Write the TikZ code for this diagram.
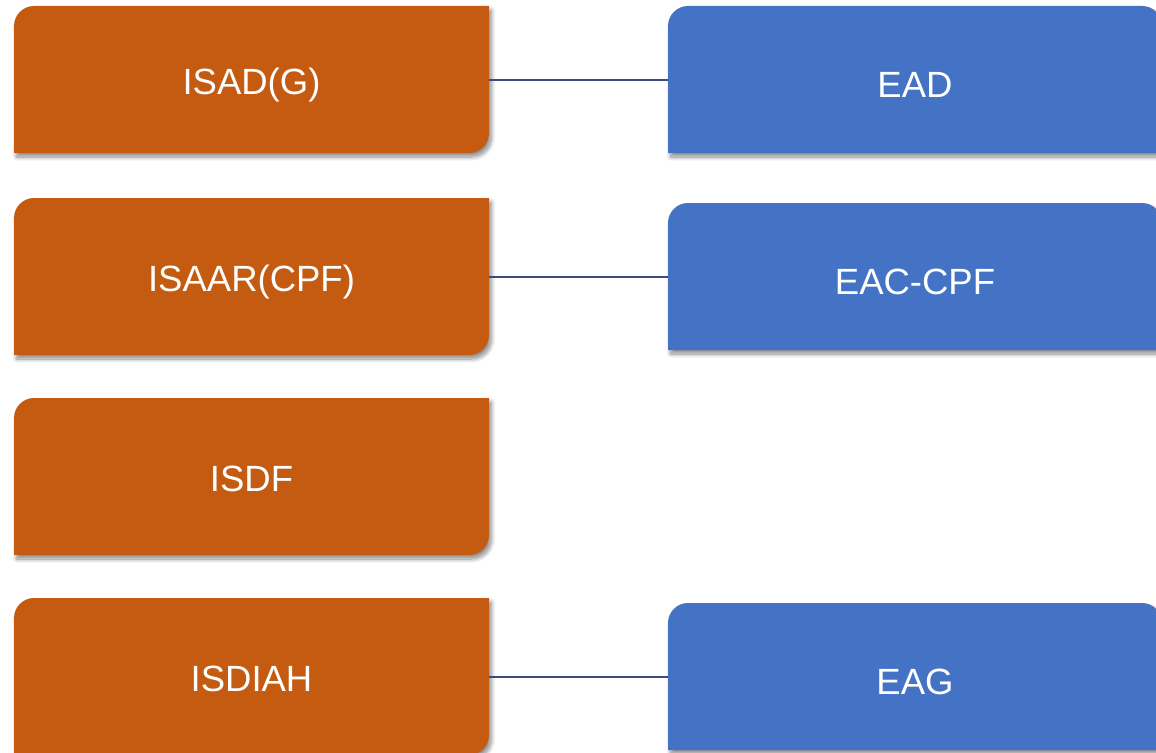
\documentclass[tikz,border=0pt]{standalone}
\usepackage{fontspec}
\setmainfont{Liberation Sans}
\usetikzlibrary{backgrounds,shadows.blur}
\definecolor{orangebox}{HTML}{C55A11}
\definecolor{bluebox}{HTML}{4472C4}
\definecolor{linkcol}{HTML}{3A4C7C}
\tikzset{
  boxnode/.style={inner sep=0pt, outer sep=0pt, text=white,
    font=\fontsize{36.5}{41}\selectfont},
  leftbox/.style={boxnode, minimum width=475pt, text height=30pt, text depth=0.6pt},
  rightbox/.style={boxnode, minimum width=494pt, text height=36pt, text depth=0.6pt},
  boxshadow/.style={blur shadow={shadow xshift=2.5pt, shadow yshift=-4pt,
    shadow blur radius=4pt, shadow blur steps=10, shadow opacity=45}},
  link/.style={draw=linkcol, line width=2pt},
}
\newcommand{\orangeshape}[1]{%
  \fill[orangebox, boxshadow]
    (#1.south west) -- ([yshift=-20pt]#1.north west)
    arc[start angle=180, end angle=90, radius=20pt]
    -- (#1.north east) -- ([yshift=20pt]#1.south east)
    arc[start angle=0, end angle=-90, radius=20pt] -- cycle;}
\newcommand{\blueshape}[1]{%
  \fill[bluebox, boxshadow]
    (#1.south west) -- ([yshift=-20pt]#1.north west)
    arc[start angle=180, end angle=90, radius=20pt]
    -- ([xshift=-20pt]#1.north east)
    arc[start angle=90, end angle=0, radius=20pt]
    -- (#1.south east) -- cycle;}
\begin{document}
\begin{tikzpicture}[x=1pt,y=1pt]
\useasboundingbox (0,0) rectangle (1156,-752);
% left boxes
\node[leftbox, minimum height=147pt] (isad) at (251.5,-79.5) {ISAD(G)};
\node[leftbox, minimum height=157pt] (isaar) at (251.5,-276.5) {ISAAR(CPF)};
\node[leftbox, minimum height=157pt] (isdf) at (251.5,-476.5) {ISDF};
\node[leftbox, minimum height=157pt] (isdiah) at (251.5,-676.5) {ISDIAH};
% right boxes
\node[rightbox, minimum height=147pt] (ead) at (915,-79.5) {EAD};
\node[rightbox, minimum height=147pt] (eac) at (915,-276.5) {EAC-CPF};
\node[rightbox, minimum height=147pt] (eag) at (915,-676.5) {EAG};
\begin{pgfonlayer}{background}
  \orangeshape{isad}
  \orangeshape{isaar}
  \orangeshape{isdf}
  \orangeshape{isdiah}
  \blueshape{ead}
  \blueshape{eac}
  \blueshape{eag}
  \draw[link] (isad.east) -- (ead.west);
  \draw[link] (isaar.east) -- (eac.west);
  \draw[link] (isdiah.east) -- (eag.west);
\end{pgfonlayer}
\end{tikzpicture}
\end{document}
